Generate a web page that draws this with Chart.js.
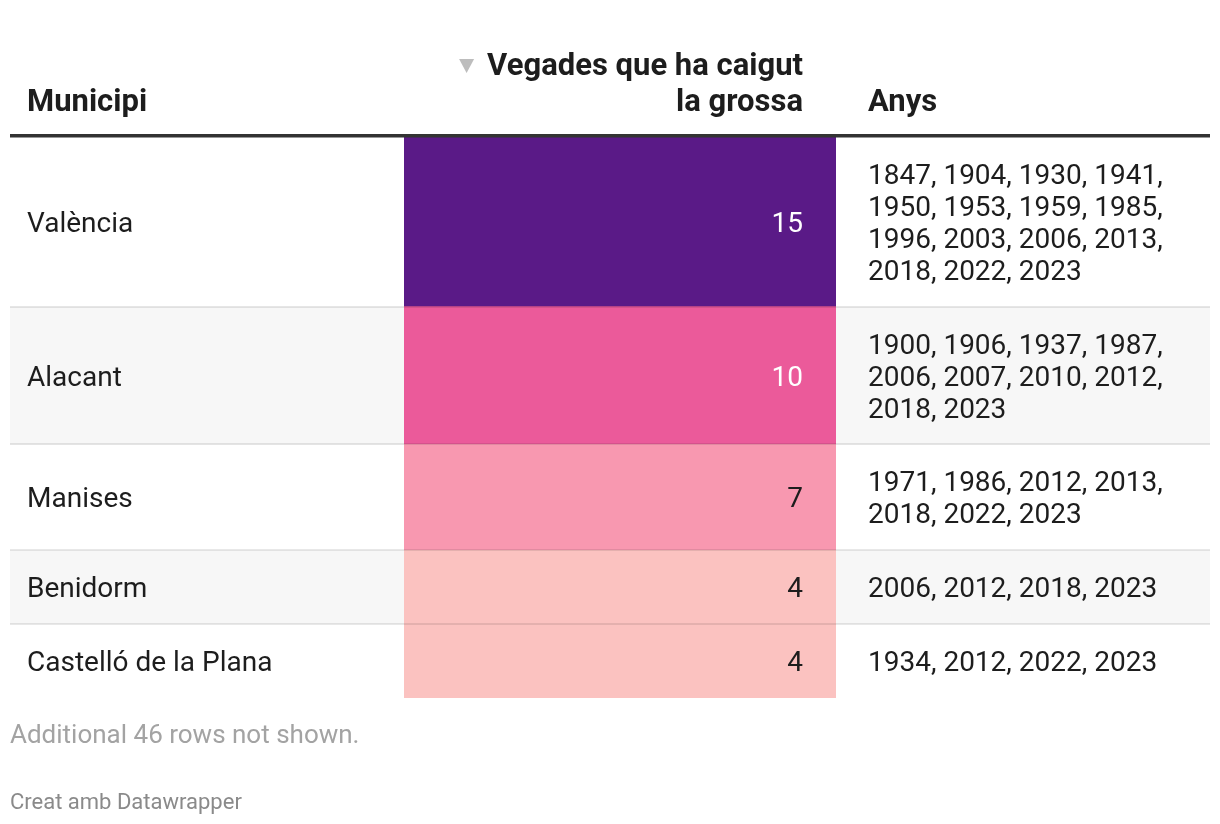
<!DOCTYPE html>
<html><head><meta charset="utf-8">
<script src="https://cdn.jsdelivr.net/npm/chart.js@4"></script>
<style>html,body{margin:0;padding:0;background:#fff}#wrap{width:1220px;height:824px;position:relative}canvas{display:block}</style>
</head><body><div id="wrap"><canvas id="c" width="1220" height="824" style="width:1220px;height:824px"></canvas></div>
<script>
// ---- data ----
const municipis = ['València', 'Alacant', 'Manises', 'Benidorm', 'Castelló de la Plana'];
const vegades = [15, 10, 7, 4, 4];
const anys = [
  [1847, 1904, 1930, 1941, 1950, 1953, 1959, 1985, 1996, 2003, 2006, 2013, 2018, 2022, 2023],
  [1900, 1906, 1937, 1987, 2006, 2007, 2010, 2012, 2018, 2023],
  [1971, 1986, 2012, 2013, 2018, 2022, 2023],
  [2006, 2012, 2018, 2023],
  [1934, 2012, 2022, 2023]
];
const headers = ['Municipi', 'Vegades que ha caigut la grossa', 'Anys'];
const footNote = 'Additional 46 rows not shown.';
const credit = 'Creat amb Datawrapper';
const colorStops = [[4, '#fbc2c0'], [7, '#f898b0'], [10, '#eb5a9a'], [15, '#5a1a87']];

// ---- styles / layout ----
const FONT = 'Roboto, "Noto Sans", sans-serif';
const BODY = 28, HEAD = 31, LINE = 32, PAD = 42, DY = 3;
const TABLE_L = 10, TABLE_R = 1210;
const COL1_X = 27, YEARS_X = 868;

function colorFor(v) {
  for (const [k, c] of colorStops) if (v <= k) return c;
  return colorStops[colorStops.length - 1][1];
}
const mctx = document.createElement('canvas').getContext('2d');
function wrap(words, max, font) {
  mctx.font = font;
  const lines = []; let cur = '';
  for (const w of words) {
    const t = cur ? cur + ' ' + w : w;
    if (cur && mctx.measureText(t).width > max) { lines.push(cur); cur = w; } else cur = t;
  }
  if (cur) lines.push(cur);
  return lines;
}
const bodyFont = `${BODY}px ${FONT}`;
const headFont = `bold ${HEAD}px ${FONT}`;
const yearLines = anys.map(a => wrap(a.map((y, i) => y + (i < a.length - 1 ? ',' : '')), 330, bodyFont));
const rowH = yearLines.map(l => PAD + LINE * l.length);
let acc = 0;
const bounds = rowH.map(h => { const s = acc; acc += h; return [s, acc]; });
const total = acc;
const headLines = wrap(headers[1].split(' '), 330, headFont);

const tablePlugin = {
  id: 'table',
  beforeDatasetsDraw(chart) {
    const c = chart.ctx, y = chart.scales.y;
    c.save();
    bounds.forEach((b, i) => {
      if (i % 2 === 1) {
        c.fillStyle = '#f7f7f7';
        const t = y.getPixelForValue(b[0]), bt = y.getPixelForValue(b[1]);
        c.fillRect(TABLE_L, t, TABLE_R - TABLE_L, bt - t);
      }
    });
    c.restore();
  },
  afterDatasetsDraw(chart) {
    const c = chart.ctx, y = chart.scales.y;
    const meta = chart.getDatasetMeta(0);
    c.save();
    // separators
    c.fillStyle = 'rgba(0,0,0,0.09)';
    bounds.forEach((b, i) => {
      if (i > 0) c.fillRect(TABLE_L, Math.round(y.getPixelForValue(b[0])) - 1, TABLE_R - TABLE_L, 2);
    });
    // header line
    c.fillStyle = '#333333';
    c.fillRect(TABLE_L, 134, TABLE_R - TABLE_L, 3.5);
    // header text
    c.fillStyle = '#1d1d1d';
    c.font = headFont;
    c.textBaseline = 'middle';
    c.textAlign = 'left';
    c.fillText(headers[0], COL1_X, 100 + DY);
    c.fillText(headers[2], YEARS_X, 100 + DY);
    const bar0 = meta.data[0];
    const numX = bar0.x + bar0.width / 2 - 33;
    c.textAlign = 'right';
    headLines.forEach((l, k) => c.fillText(l, numX, 100 + DY - (headLines.length - 1 - k) * 36));
    // sort triangle
    const firstW = c.measureText(headLines[0]).width;
    const tx = numX - firstW - 28;
    c.fillStyle = '#bdbdbd';
    c.beginPath();
    c.moveTo(tx, 59); c.lineTo(tx + 15, 59); c.lineTo(tx + 7.5, 73); c.closePath(); c.fill();
    // body
    c.font = bodyFont;
    bounds.forEach((b, i) => {
      const mid = y.getPixelForValue((b[0] + b[1]) / 2) + DY;
      c.textAlign = 'left';
      c.fillStyle = '#1d1d1d';
      c.fillText(municipis[i], COL1_X, mid);
      const L = yearLines[i];
      L.forEach((l, k) => c.fillText(l, YEARS_X, mid + (k - (L.length - 1) / 2) * LINE));
      c.textAlign = 'right';
      c.fillStyle = vegades[i] >= 10 ? '#ffffff' : '#1d1d1d';
      c.fillText(String(vegades[i]), numX, mid);
    });
    // footer
    c.textAlign = 'left';
    c.fillStyle = '#a3a3a3';
    c.font = `26px ${FONT}`;
    c.fillText(footNote, TABLE_L, 733 + DY);
    c.fillStyle = '#8a8a8a';
    c.font = `22px ${FONT}`;
    c.fillText(credit, TABLE_L, 800 + DY);
    c.restore();
  }
};

new Chart(document.getElementById('c'), {
  type: 'bar',
  data: {
    labels: ['col'],
    datasets: [{
      data: bounds.map(b => ({ x: 'col', y: b })),
      backgroundColor: vegades.map(colorFor),
      borderWidth: 0,
      barPercentage: 1,
      categoryPercentage: 1,
      grouped: false
    }]
  },
  options: {
    responsive: false,
    animation: false,
    devicePixelRatio: 1,
    layout: { padding: { left: 404, right: 1220 - 836, top: 137, bottom: 824 - 698 } },
    plugins: { legend: { display: false }, tooltip: { enabled: false } },
    scales: {
      x: { display: false, offset: true },
      y: { display: false, min: 0, max: total, reverse: true }
    }
  },
  plugins: [tablePlugin]
});
</script>
</body></html>
